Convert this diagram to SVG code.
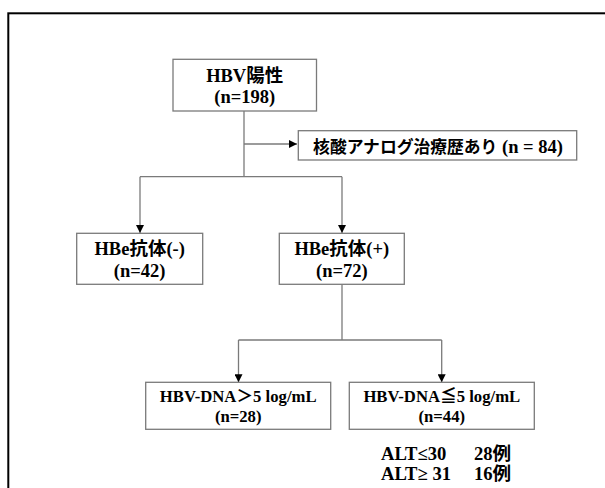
<svg xmlns="http://www.w3.org/2000/svg" width="605" height="488" viewBox="0 0 605 488">
<defs>
<style>
.box{fill:#fff;stroke:#7a7a7a;stroke-width:1.3}
.ln{fill:none;stroke:#7a7a7a;stroke-width:1.3}
.t{font-family:"Liberation Serif","Noto Sans CJK JP",serif;font-weight:bold;fill:#000;text-anchor:middle}
.st{text-anchor:start}
.s17{font-size:18.5px}
.s16{font-size:16.7px}
.s18{font-size:18.6px}
.jp{font-family:"Noto Sans CJK JP",sans-serif;font-weight:bold}
</style>
<marker id="ah" viewBox="0 0 10 10" refX="10" refY="5" markerWidth="8" markerHeight="8" markerUnits="userSpaceOnUse" orient="auto">
<path d="M0,0 L10,5 L0,10 Z" fill="#000"/>
</marker>
</defs>
<rect width="605" height="488" fill="#fff"/>
<rect x="8.3" y="13.3" width="700" height="600" fill="none" stroke="#000" stroke-width="2"/>
<g id="connectors">
<path class="ln" d="M244,111 V176.7"/>
<path class="ln" d="M244,144 H297" marker-end="url(#ah)"/>
<path class="ln" d="M140,176.7 H342"/>
<path class="ln" d="M140,176.7 V233" marker-end="url(#ah)"/>
<path class="ln" d="M342,176.7 V233" marker-end="url(#ah)"/>
<path class="ln" d="M342,284.3 V340"/>
<path class="ln" d="M238.5,340 H441.7"/>
<path class="ln" d="M238.5,340 V382.3" marker-end="url(#ah)"/>
<path class="ln" d="M441.7,340 V382.3" marker-end="url(#ah)"/>
</g>
<g id="hbv">
<rect class="box" x="173" y="59.3" width="143.5" height="51.7"/>
<text class="t s17" x="244.7" y="81.7">HBV陽性</text>
<text class="t s17" x="244.7" y="103">(n=198)</text>
</g>
<g id="nucleic">
<rect class="box" x="298.3" y="130.7" width="278.4" height="29.3"/>
<text class="t s17" x="438" y="153"><tspan class="jp" font-size="16.8">核酸アナログ治療歴あり</tspan> (n = 84)</text>
</g>
<g id="hbe-neg">
<rect class="box" x="76.7" y="233.3" width="126" height="51"/>
<text class="t s17" x="139.7" y="255">HBe抗体(-)</text>
<text class="t s17" x="139.7" y="276.7">(n=42)</text>
</g>
<g id="hbe-pos">
<rect class="box" x="279.3" y="233.3" width="125" height="51"/>
<text class="t s17" x="341.8" y="255">HBe抗体(+)</text>
<text class="t s17" x="341.8" y="276.7">(n=72)</text>
</g>
<g id="dna-high">
<rect class="box" x="145.7" y="382.3" width="185" height="47"/>
<text class="t s16" x="238.2" y="401.7">HBV-DNA＞5 log/mL</text>
<text class="t s16" x="238.2" y="421.7">(n=28)</text>
</g>
<g id="dna-low">
<rect class="box" x="349.3" y="382.3" width="185" height="47"/>
<text class="t s16" x="441.8" y="401.7">HBV-DNA≦5 log/mL</text>
<text class="t s16" x="441.8" y="421.7">(n=44)</text>
</g>
<g id="alt">
<text class="t s18 st" x="381" y="460">ALT≤30</text>
<text class="t s18 st" x="474" y="460">28例</text>
<text class="t s18 st" x="381" y="480">ALT≥ 31</text>
<text class="t s18 st" x="474" y="480">16例</text>
</g>
</svg>
